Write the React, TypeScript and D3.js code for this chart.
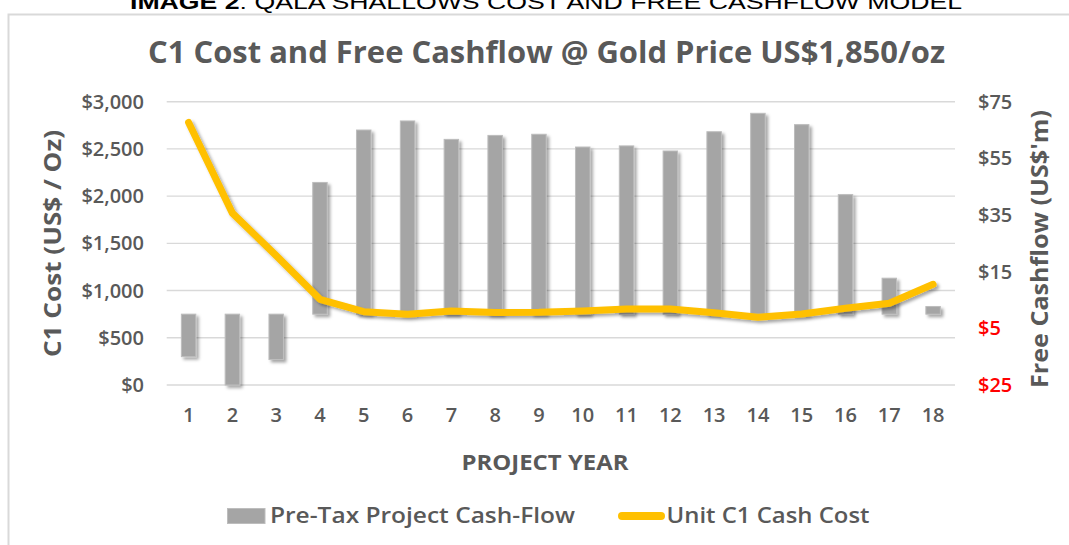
import React, { useEffect } from "react";
import * as d3 from "d3";

const years = ["1","2","3","4","5","6","7","8","9","10","11","12","13","14","15","16","17","18"];
const preTaxCashFlow = [-15, -25, -16, 46.5, 65, 68.2, 61.7, 63.1, 63.5, 59, 59.4, 57.6, 64.4, 70.9, 66.9, 42.2, 12.7, 2.7];
const unitC1Cost = [2780, 1820, 1370, 907, 776, 750, 784, 768, 770, 784, 805, 805, 766, 717, 752, 812, 865, 1066];
const leftTicks = [0, 500, 1000, 1500, 2000, 2500, 3000];
const rightTicks = [-25, -5, 15, 35, 55, 75];

const W = 1069, H = 545;
const FONT = "'Open Sans', 'Noto Sans', sans-serif";
const GREY = "#595959";

export default function App() {
  useEffect(() => {
    document.body.style.margin = "0";
  }, []);

  const plotL = 166.7, plotR = 955, plotT = 101.7, plotB = 385;
  const x = d3.scaleBand<string>().domain(years).range([plotL, plotR]).padding(0);
  const yL = d3.scaleLinear().domain([0, 3000]).range([plotB, plotT]);
  const yR = d3.scaleLinear().domain([-25, 75]).range([plotB, plotT]);
  const barW = x.step() * 0.33;
  const cx = (d: string) => (x(d) as number) + x.bandwidth() / 2;

  const line = d3.line<number>()
    .x((_, i) => cx(years[i]))
    .y((v) => yL(v))
    .curve(d3.curveLinear);

  const fmtL = (v: number) => "$" + d3.format(",")(v);

  return (
    <svg width={W} height={H} style={{ position: "absolute", left: 0, top: 0, background: "#fff" }}>
      <defs>
        <filter id="shadow" x="-50%" y="-20%" width="200%" height="140%">
          <feDropShadow dx="2.5" dy="2.5" stdDeviation="1.6" floodColor="#000" floodOpacity="0.35" />
        </filter>
      </defs>
      <rect x={0} y={0} width={W} height={H} fill="#fff" />
      {/* header */}
      <text x={546} y={9} textAnchor="middle" fontFamily="'Liberation Sans', Arial, sans-serif" fontSize={20}
        fill="#000" textLength={832} lengthAdjust="spacingAndGlyphs">
        <tspan fontWeight="bold">IMAGE 2</tspan>
        <tspan>: QALA SHALLOWS COST AND FREE CASHFLOW MODEL</tspan>
      </text>
      {/* chart frame */}
      <rect x={8.5} y={14.5} width={W + 10} height={H + 10} fill="#fff" stroke="#D9D9D9" strokeWidth={2} />
      {/* title */}
      <text x={546.5} y={63} textAnchor="middle" fontFamily={FONT} fontWeight="bold" fontSize={30}
        fill={GREY} textLength={797} lengthAdjust="spacingAndGlyphs">
        C1 Cost and Free Cashflow @ Gold Price US$1,850/oz
      </text>
      {/* gridlines */}
      {leftTicks.map((t) => (
        <line key={"g" + t} x1={plotL} x2={plotR} y1={yL(t)} y2={yL(t)} stroke="#D9D9D9" strokeWidth={1.4} />
      ))}
      {/* left tick labels */}
      {leftTicks.map((t) => (
        <text key={"l" + t} x={144} y={yL(t) + 7} textAnchor="end" fontFamily={FONT} fontSize={20}
          fontWeight={600} fill={GREY}>{fmtL(t)}</text>
      ))}
      {/* right tick labels */}
      {rightTicks.map((t) => (
        <text key={"r" + t} x={978} y={yR(t) + 7} textAnchor="start" fontFamily={FONT} fontSize={20}
          fontWeight={600} fill={t < 0 ? "#FF0000" : GREY}>{"$" + Math.abs(t)}</text>
      ))}
      {/* axis titles */}
      <text transform={`translate(61,243.5) rotate(-90)`} textAnchor="middle" fontFamily={FONT} fontSize={22.5}
        fontWeight="bold" fill={GREY} textLength={227} lengthAdjust="spacingAndGlyphs">C1 Cost (US$ / Oz)</text>
      <text transform={`translate(1047.5,249) rotate(-90)`} textAnchor="middle" fontFamily={FONT} fontSize={22.5}
        fontWeight="bold" fill={GREY} textLength={278} lengthAdjust="spacingAndGlyphs">Free Cashflow (US$'m)</text>
      {/* bars */}
      <g filter="url(#shadow)">
        {preTaxCashFlow.map((v, i) => {
          const y0 = yR(0), y1 = yR(v);
          return (
            <rect key={"b" + i} x={cx(years[i]) - barW / 2} y={Math.min(y0, y1)} width={barW}
              height={Math.abs(y1 - y0)} fill="#A5A5A5" stroke="#BDBDBD" strokeWidth={1} />
          );
        })}
      </g>
      {/* line */}
      <path d={line(unitC1Cost) || ""} fill="none" stroke="#FFC000" strokeWidth={7}
        strokeLinecap="round" strokeLinejoin="round" filter="url(#shadow)" />
      {/* x labels */}
      {years.map((y) => (
        <text key={"x" + y} x={cx(y)} y={421.5} textAnchor="middle" fontFamily={FONT} fontSize={20}
          fontWeight={600} fill={GREY}>{y}</text>
      ))}
      <text x={545} y={469.5} textAnchor="middle" fontFamily={FONT} fontSize={20.5} fontWeight="bold"
        fill={GREY} textLength={167} lengthAdjust="spacingAndGlyphs">PROJECT YEAR</text>
      {/* legend */}
      <rect x={227.5} y={508.5} width={37.5} height={15} fill="#A5A5A5" stroke="#BDBDBD" strokeWidth={1} />
      <text x={270} y={523.3} fontFamily={FONT} fontSize={21} fontWeight={600} fill={GREY}
        textLength={305} lengthAdjust="spacingAndGlyphs">Pre-Tax Project Cash-Flow</text>
      <line x1={622} x2={661} y1={516} y2={516} stroke="#FFC000" strokeWidth={8} strokeLinecap="round" />
      <text x={666.5} y={523.3} fontFamily={FONT} fontSize={21} fontWeight={600} fill={GREY}
        textLength={203} lengthAdjust="spacingAndGlyphs">Unit C1 Cash Cost</text>
    </svg>
  );
}
